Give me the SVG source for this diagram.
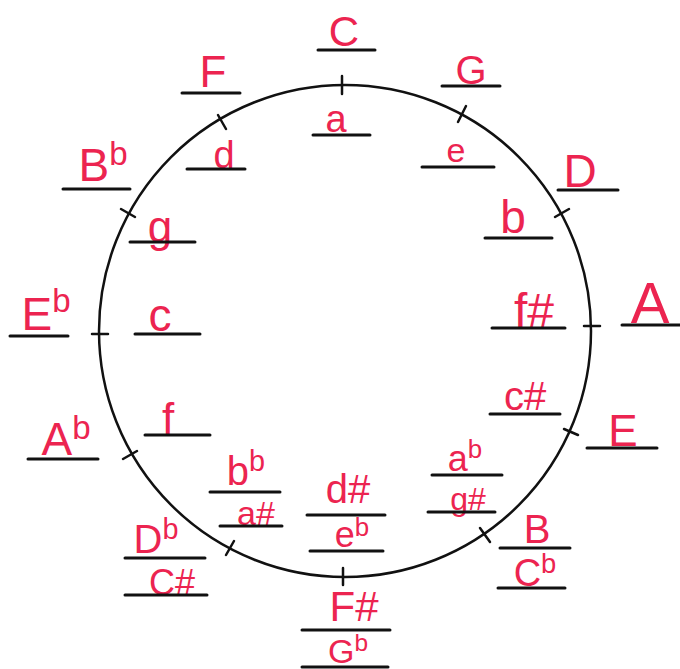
<svg xmlns="http://www.w3.org/2000/svg" width="680" height="669" viewBox="0 0 680 669">
<style>
.lbl{font-family:"Liberation Sans","DejaVu Sans",sans-serif;fill:#ec2450;text-anchor:middle}
.ul{stroke:#111;stroke-width:3;stroke-linecap:round;fill:none}
.rim{stroke:#111;stroke-width:2.5;fill:none}
.tick{stroke:#111;stroke-width:2.5;stroke-linecap:round}
.sup{font-size:0.72em}
</style>
<rect width="680" height="669" fill="#fff"/>
<g id="connectors">
<circle class="rim" cx="345" cy="331" r="246"/>
<line class="tick" x1="342" y1="76" x2="342" y2="94"/>
<line class="tick" x1="458" y1="122" x2="466" y2="106"/>
<line class="tick" x1="555" y1="217" x2="569" y2="209"/>
<line class="tick" x1="584" y1="326" x2="600" y2="326"/>
<line class="tick" x1="564" y1="429" x2="578" y2="435"/>
<line class="tick" x1="480" y1="528" x2="490" y2="542"/>
<line class="tick" x1="343" y1="568" x2="343" y2="585"/>
<line class="tick" x1="234" y1="541" x2="226" y2="555"/>
<line class="tick" x1="137" y1="451" x2="123" y2="459"/>
<line class="tick" x1="92" y1="334" x2="108" y2="334"/>
<line class="tick" x1="135" y1="217" x2="121" y2="209"/>
<line class="tick" x1="226" y1="129" x2="218" y2="115"/>
</g>
<g id="C"><text class="lbl" x="344" y="46" font-size="42">C</text><line class="ul" x1="318" y1="50" x2="375" y2="50"/></g>
<g id="a"><text class="lbl" x="336" y="132" font-size="38">a</text><line class="ul" x1="313" y1="135" x2="370" y2="135"/></g>
<g id="G"><text class="lbl" x="471" y="84" font-size="40">G</text><line class="ul" x1="442" y1="86" x2="500" y2="86"/></g>
<g id="e"><text class="lbl" x="456" y="162" font-size="34">e</text><line class="ul" x1="422" y1="167" x2="494" y2="167"/></g>
<g id="D"><text class="lbl" x="580" y="187" font-size="46">D</text><line class="ul" x1="558" y1="190" x2="618" y2="190"/></g>
<g id="b"><text class="lbl" x="513" y="233" font-size="46">b</text><line class="ul" x1="485" y1="238" x2="552" y2="238"/></g>
<g id="A"><text class="lbl" x="650" y="323" font-size="58">A</text><line class="ul" x1="622" y1="325" x2="680" y2="325"/></g>
<g id="fsharp"><text class="lbl" x="534" y="327" font-size="48">f#</text><line class="ul" x1="492" y1="328" x2="565" y2="328"/></g>
<g id="E"><text class="lbl" x="623" y="446" font-size="44">E</text><line class="ul" x1="587" y1="448" x2="657" y2="448"/></g>
<g id="csharp"><text class="lbl" x="525" y="410" font-size="40">c#</text><line class="ul" x1="490" y1="414" x2="560" y2="414"/></g>
<g id="B-Cb"><text class="lbl" x="537" y="543" font-size="40">B</text><line class="ul" x1="500" y1="548" x2="570" y2="548"/><text class="lbl" x="535" y="586" font-size="38">C<tspan class="sup" dy="-13">b</tspan></text><line class="ul" x1="498" y1="588" x2="565" y2="588"/></g>
<g id="ab-gsharp"><text class="lbl" x="465" y="471" font-size="36">a<tspan class="sup" dy="-13">b</tspan></text><line class="ul" x1="432" y1="475" x2="502" y2="475"/><text class="lbl" x="468" y="510" font-size="32">g#</text><line class="ul" x1="428" y1="512" x2="495" y2="512"/></g>
<g id="dsharp-eb"><text class="lbl" x="348" y="503" font-size="40">d#</text><line class="ul" x1="307" y1="515" x2="385" y2="515"/><text class="lbl" x="352" y="547" font-size="36">e<tspan class="sup" dy="-11">b</tspan></text><line class="ul" x1="310" y1="551" x2="383" y2="551"/></g>
<g id="Fsharp-Gb"><text class="lbl" x="354" y="621" font-size="42">F#</text><line class="ul" x1="302" y1="630" x2="390" y2="630"/><text class="lbl" x="348" y="663" font-size="34">G<tspan class="sup" dy="-12">b</tspan></text><line class="ul" x1="302" y1="667" x2="388" y2="667"/></g>
<g id="Db-Csharp"><text class="lbl" x="156" y="553" font-size="40">D<tspan class="sup" dy="-14">b</tspan></text><line class="ul" x1="125" y1="558" x2="205" y2="558"/><text class="lbl" x="172" y="595" font-size="36">C#</text><line class="ul" x1="125" y1="595" x2="207" y2="595"/></g>
<g id="bb-asharp"><text class="lbl" x="246" y="485" font-size="40">b<tspan class="sup" dy="-14">b</tspan></text><line class="ul" x1="210" y1="492" x2="280" y2="492"/><text class="lbl" x="256" y="525" font-size="34">a#</text><line class="ul" x1="220" y1="526" x2="282" y2="526"/></g>
<g id="Ab"><text class="lbl" x="66" y="455" font-size="46">A<tspan class="sup" dy="-16">b</tspan></text><line class="ul" x1="28" y1="459" x2="98" y2="459"/></g>
<g id="f"><text class="lbl" x="168" y="434" font-size="44">f</text><line class="ul" x1="145" y1="435" x2="210" y2="435"/></g>
<g id="Eb"><text class="lbl" x="46" y="330" font-size="46">E<tspan class="sup" dy="-18">b</tspan></text><line class="ul" x1="10" y1="336" x2="68" y2="336"/></g>
<g id="c"><text class="lbl" x="160" y="331" font-size="46">c</text><line class="ul" x1="135" y1="334" x2="200" y2="334"/></g>
<g id="Bb"><text class="lbl" x="103" y="181" font-size="46">B<tspan class="sup" dy="-16">b</tspan></text><line class="ul" x1="63" y1="189" x2="130" y2="189"/></g>
<g id="g"><text class="lbl" x="160" y="242" font-size="44">g</text><line class="ul" x1="130" y1="242" x2="195" y2="242"/></g>
<g id="F"><text class="lbl" x="213" y="87" font-size="44">F</text><line class="ul" x1="182" y1="93" x2="240" y2="93"/></g>
<g id="d"><text class="lbl" x="224" y="168" font-size="38">d</text><line class="ul" x1="187" y1="169" x2="245" y2="169"/></g>
</svg>
